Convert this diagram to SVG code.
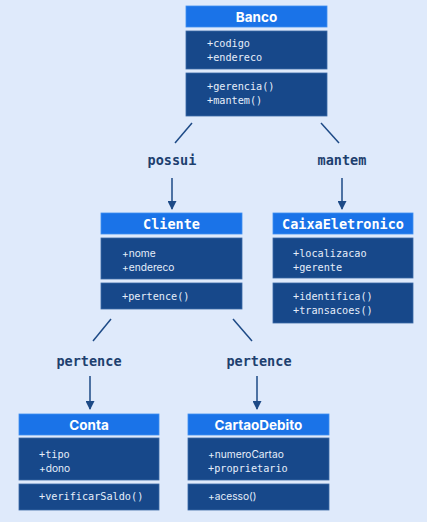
<svg xmlns="http://www.w3.org/2000/svg" width="427" height="522" viewBox="0 0 427 522">
<defs>
<marker id="ah" viewBox="0 0 10 10" refX="9" refY="5" markerWidth="10" markerHeight="9" markerUnits="userSpaceOnUse" orient="auto">
<path d="M0,0 L10,5 L0,10 z" fill="#1d4a86"/>
</marker>
<style>
.hd{fill:#1a73e8;stroke:#3f8ff0;stroke-width:0.8}
.bx{fill:#17488a;stroke:#3a69a6;stroke-width:0.8}
.ht{fill:#ffffff;font-weight:bold;font-size:13.5px;text-anchor:middle}
.mono{font-family:"DejaVu Sans Mono","Liberation Mono",monospace}
.sans{font-family:Inter,"Liberation Sans",sans-serif}
.at{fill:#e6eefa;font-size:10.2px}
.lb{fill:#1d3f6e;font-weight:bold;font-size:13.5px;text-anchor:middle;font-family:"DejaVu Sans Mono","Liberation Mono",monospace}
.ln{stroke:#1d4a86;stroke-width:1.5;fill:none}
</style>
</defs>
<rect width="427" height="522" fill="#dfeafb"/>
<g id="connectors">
<line class="ln" x1="192" y1="123" x2="175" y2="143"/>
<line class="ln" x1="321" y1="123" x2="339" y2="143"/>
<line class="ln" x1="172" y1="178" x2="172" y2="209" marker-end="url(#ah)"/>
<line class="ln" x1="342" y1="178" x2="342" y2="209" marker-end="url(#ah)"/>
<text class="lb" x="172" y="165">possui</text>
<text class="lb" x="342" y="165">mantem</text>
<line class="ln" x1="111" y1="319" x2="93" y2="341"/>
<line class="ln" x1="233" y1="319" x2="252" y2="341"/>
<line class="ln" x1="90" y1="376" x2="90" y2="409" marker-end="url(#ah)"/>
<line class="ln" x1="257" y1="376" x2="257" y2="409" marker-end="url(#ah)"/>
<text class="lb" x="89" y="366">pertence</text>
<text class="lb" x="259" y="366">pertence</text>
</g>
<g id="Banco">
<rect class="hd" x="186" y="6" width="141" height="21"/>
<text class="ht sans" x="256.5" y="21.5">Banco</text>
<rect class="bx" x="186" y="31" width="141" height="38"/>
<text class="at mono" x="207" y="47">+codigo</text>
<text class="at mono" x="207" y="61">+endereco</text>
<rect class="bx" x="186" y="73" width="141" height="43"/>
<text class="at mono" x="207" y="90">+gerencia()</text>
<text class="at mono" x="207" y="104">+mantem()</text>
</g>
<g id="Cliente">
<rect class="hd" x="101" y="213" width="141" height="21"/>
<text class="ht mono" x="171.5" y="228.5">Cliente</text>
<rect class="bx" x="101" y="238" width="141" height="41"/>
<text class="at sans" x="122" y="256.5">+nome</text>
<text class="at sans" x="122" y="270.5">+endereco</text>
<rect class="bx" x="101" y="283" width="141" height="26"/>
<text class="at mono" x="122" y="299.5">+pertence()</text>
</g>
<g id="CaixaEletronico">
<rect class="hd" x="273" y="213" width="140" height="21"/>
<text class="ht mono" x="343" y="228.5">CaixaEletronico</text>
<rect class="bx" x="273" y="238" width="140" height="40"/>
<text class="at mono" x="293" y="256.5">+localizacao</text>
<text class="at mono" x="293" y="270.5">+gerente</text>
<rect class="bx" x="273" y="283" width="140" height="40"/>
<text class="at mono" x="293" y="299.5">+identifica()</text>
<text class="at mono" x="293" y="313.5">+transacoes()</text>
</g>
<g id="Conta">
<rect class="hd" x="19" y="414" width="140" height="21"/>
<text class="ht sans" x="89" y="429.5">Conta</text>
<rect class="bx" x="19" y="438" width="140" height="42"/>
<text class="at mono" x="39" y="457.5">+tipo</text>
<text class="at sans" x="39" y="471.5">+dono</text>
<rect class="bx" x="19" y="484" width="140" height="26"/>
<text class="at mono" x="39" y="499.5">+verificarSaldo()</text>
</g>
<g id="CartaoDebito">
<rect class="hd" x="188" y="414" width="141" height="21"/>
<text class="ht sans" x="258.5" y="429.5">CartaoDebito</text>
<rect class="bx" x="188" y="438" width="141" height="42"/>
<text class="at sans" x="208" y="457.5">+numeroCartao</text>
<text class="at mono" x="208" y="471.5">+proprietario</text>
<rect class="bx" x="188" y="484" width="141" height="26"/>
<text class="at sans" x="208" y="499.5">+acesso()</text>
</g>
</svg>
